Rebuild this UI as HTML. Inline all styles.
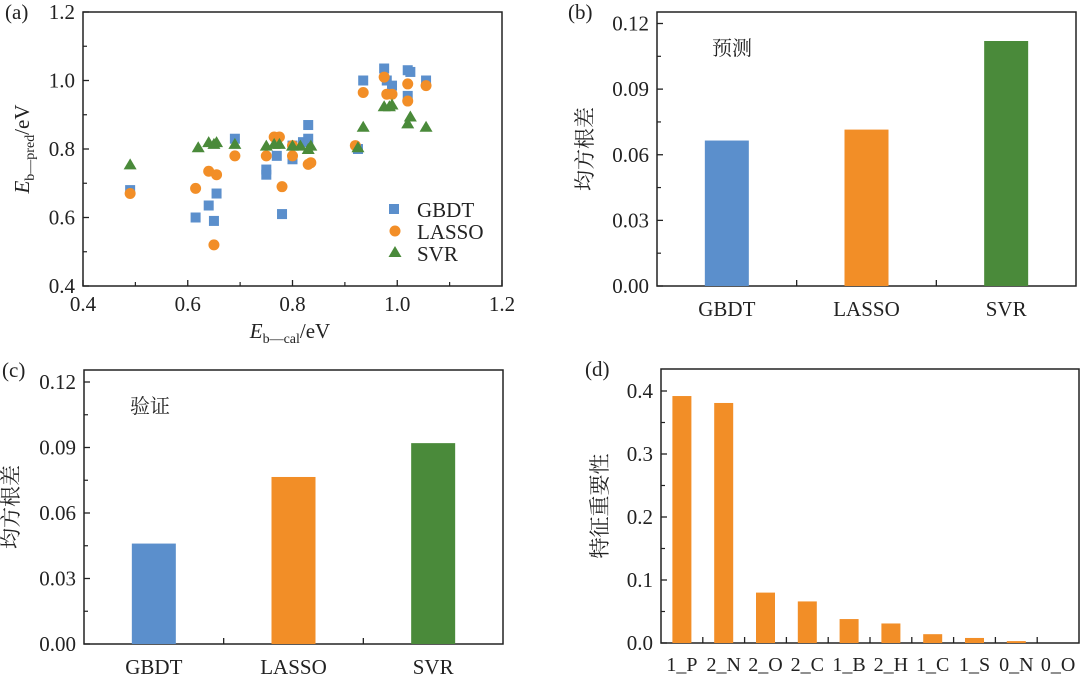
<!DOCTYPE html>
<html><head><meta charset="utf-8"><style>
html,body{margin:0;padding:0;background:#fff}
svg{display:block}
text{font-family:"Liberation Serif","Noto Serif CJK SC",serif;fill:#222}
</style></head><body>
<svg id="fig" width="1080" height="675" viewBox="0 0 1080 675" xmlns="http://www.w3.org/2000/svg"></svg>
<script>
// ---- data ----
const gbdtX=[0.49,0.615,0.64,0.65,0.655,0.69,0.75,0.75,0.77,0.78,0.80,0.80,0.82,0.83,0.83,0.925,0.935,0.975,0.98,0.99,1.02,1.025,1.02,1.055];
const gbdtY=[0.68,0.60,0.635,0.59,0.67,0.83,0.74,0.725,0.78,0.61,0.77,0.81,0.82,0.83,0.87,0.80,1.0,1.035,1.0,0.985,1.03,1.025,0.955,1.0];
const lassoX=[0.49,0.615,0.64,0.655,0.65,0.69,0.75,0.765,0.775,0.78,0.80,0.80,0.83,0.835,0.92,0.935,0.975,0.98,0.99,1.02,1.02,1.055];
const lassoY=[0.67,0.685,0.735,0.725,0.52,0.78,0.78,0.835,0.835,0.69,0.78,0.81,0.755,0.76,0.81,0.965,1.01,0.96,0.96,0.99,0.94,0.985];
const svrX=[0.49,0.62,0.64,0.65,0.655,0.69,0.75,0.765,0.775,0.80,0.815,0.83,0.835,0.925,0.935,0.975,0.985,0.99,1.02,1.025,1.055];
const svrY=[0.755,0.805,0.82,0.815,0.82,0.815,0.81,0.815,0.815,0.81,0.81,0.80,0.81,0.805,0.865,0.925,0.925,0.93,0.875,0.895,0.865];
const models=["GBDT","LASSO","SVR"];
const rmsePred=[0.0665,0.0715,0.112];
const rmseVal=[0.046,0.0765,0.092];
const feats=["1_P","2_N","2_O","2_C","1_B","2_H","1_C","1_S","0_N","0_O"];
const importance=[0.392,0.381,0.080,0.066,0.038,0.031,0.014,0.008,0.003,0.0];
const rmseTicks=["0.00","0.03","0.06","0.09","0.12"];
const impTicks=["0.0","0.1","0.2","0.3","0.4"];
const scatTicks=["0.4","0.6","0.8","1.0","1.2"];

const NS="http://www.w3.org/2000/svg";
const svg=document.getElementById('fig');
const C={b:"#5b8fcc",o:"#f28e27",g:"#4a8a3a"};
const FS=21;
function el(tag,attrs,parent){const e=document.createElementNS(NS,tag);for(const k in attrs)e.setAttribute(k,attrs[k]);(parent||svg).appendChild(e);return e;}
function txt(s,x,y,size,anchor,parent){const t=el('text',{x:x,y:y,'font-size':size,'text-anchor':anchor||'middle'},parent);t.textContent=s;return t;}

// ---- panel (a) scatter ----
const A={l:83,r:502,t:12,b:286};
const ax=v=>A.l+(v-0.4)/0.8*(A.r-A.l);
const ay=v=>A.b-(v-0.4)/0.8*(A.b-A.t);
const gA=el('g',{});


el('rect',{x:A.l,y:A.t,width:A.r-A.l,height:A.b-A.t,fill:'none',stroke:'#222','stroke-width':1.5},gA);
for(let i=0;i<scatTicks.length;i++){
  const v=0.4+i*0.2;
  el('line',{x1:A.l,x2:A.l+6,y1:ay(v),y2:ay(v),stroke:'#222','stroke-width':1.3},gA);
  el('line',{x1:ax(v),x2:ax(v),y1:A.b,y2:A.b-6,stroke:'#222','stroke-width':1.3},gA);
  if(i<4){el('line',{x1:A.l,x2:A.l+4,y1:ay(v+0.1),y2:ay(v+0.1),stroke:'#222','stroke-width':1.2},gA);
  el('line',{x1:ax(v+0.1),x2:ax(v+0.1),y1:A.b,y2:A.b-4,stroke:'#222','stroke-width':1.2},gA);}
  txt(scatTicks[i],A.l-8,ay(v)+7,FS,'end',gA);
  txt(scatTicks[i],ax(v),A.b+25,FS,'middle',gA);
}
gbdtX.forEach((x,i)=>{const r=el('rect',{x:ax(x)-5,y:ay(gbdtY[i])-5,width:10,height:10,fill:C.b},gA);
});
lassoX.forEach((x,i)=>{const c=el('circle',{cx:ax(x),cy:ay(lassoY[i]),r:5.5,fill:C.o},gA);
});
svrX.forEach((x,i)=>{const X=ax(x),Y=ay(svrY[i]);const p=el('polygon',{points:`${X},${Y-6} ${X-6.5},${Y+5} ${X+6.5},${Y+5}`,fill:C.g},gA);
});
// legend
const lg=el('g',{},gA);
el('rect',{x:389,y:204,width:10,height:10,fill:C.b},lg);txt('GBDT',417,217,FS,'start',lg);
el('circle',{cx:395,cy:231,r:5.5,fill:C.o},lg);txt('LASSO',417,239,FS,'start',lg);
el('polygon',{points:'395,246 388.5,257 401.5,257',fill:C.g},lg);txt('SVR',417,261,FS,'start',lg);
txt('(a)',5,19,FS,'start',gA);
const yl=el('text',{x:0,y:0,'font-size':FS,'text-anchor':'middle',transform:'translate(29,149) rotate(-90)'},gA);
yl.innerHTML='<tspan font-style="italic">E</tspan><tspan font-size="14" dy="5">b—pred</tspan><tspan dy="-5">/eV</tspan>';

const xl=el('text',{x:290,y:338,'font-size':FS,'text-anchor':'middle'},gA);
xl.innerHTML='<tspan font-style="italic">E</tspan><tspan font-size="14" dy="5">b—cal</tspan><tspan dy="-5">/eV</tspan>';


// ---- bar panels ----
function barPanel(P,name,label,note,vals,cats,colors,ymax,ticks,tickStep,bw,ylab,ylabX){
  const g=el('g',{});
  const y=v=>P.b-v/ymax*(P.b-P.tk);
  const band=(P.r-P.l)/cats.length;
  el('rect',{x:P.l,y:P.t,width:P.r-P.l,height:P.b-P.t,fill:'none',stroke:'#222','stroke-width':1.5},g);
  ticks.forEach((s,i)=>{const v=i*tickStep;
    el('line',{x1:P.l,x2:P.l+6,y1:y(v),y2:y(v),stroke:'#222','stroke-width':1.3},g);
    if(i<ticks.length-1)el('line',{x1:P.l,x2:P.l+4,y1:y(v+tickStep/2),y2:y(v+tickStep/2),stroke:'#222','stroke-width':1.2},g);
    txt(s,P.l-8,y(v)+7,FS,'end',g);});
  for(let i=1;i<cats.length;i++)el('line',{x1:P.l+i*band,x2:P.l+i*band,y1:P.b,y2:P.b-6,stroke:'#222','stroke-width':1.3},g);
  vals.forEach((v,i)=>{const cx=P.l+(i+0.5)*band;
    const r=el('rect',{x:cx-bw/2,y:y(v),width:bw,height:P.b-y(v),fill:colors[i%colors.length]},g);
    
    txt(cats[i],cx,P.b+P.lab,P.fs,'middle',g);});
  txt(label,P.lx,P.t+7,FS,'start',g);
  if(note)txt(note,P.nx,P.ny,20,'start',g);
  const t=el('text',{x:0,y:0,'font-size':21,'text-anchor':'middle',transform:`translate(${ylabX},${(P.t+P.b)/2}) rotate(-90)`},g);
  t.textContent=ylab;
}
barPanel({l:657,r:1076,t:12,b:286,tk:23.5,lab:30,fs:FS,lx:568,nx:712,ny:55},'rmse-prediction-panel-b','(b)','预测',rmsePred,models,[C.b,C.o,C.g],0.12,rmseTicks,0.03,44,'均方根差',592);
barPanel({l:84,r:503,t:370,b:644,tk:382,lab:30,fs:FS,lx:2,nx:130,ny:413},'rmse-validation-panel-c','(c)','验证',rmseVal,models,[C.b,C.o,C.g],0.12,rmseTicks,0.03,44,'均方根差',18);
barPanel({l:661,r:1079,t:369,b:643,tk:391,lab:28,fs:20,lx:585,nx:0,ny:0},'feature-importance-panel-d','(d)','',importance,feats,[C.o],0.4,impTicks,0.1,19,'特征重要性',607);
</script>
</body></html>
